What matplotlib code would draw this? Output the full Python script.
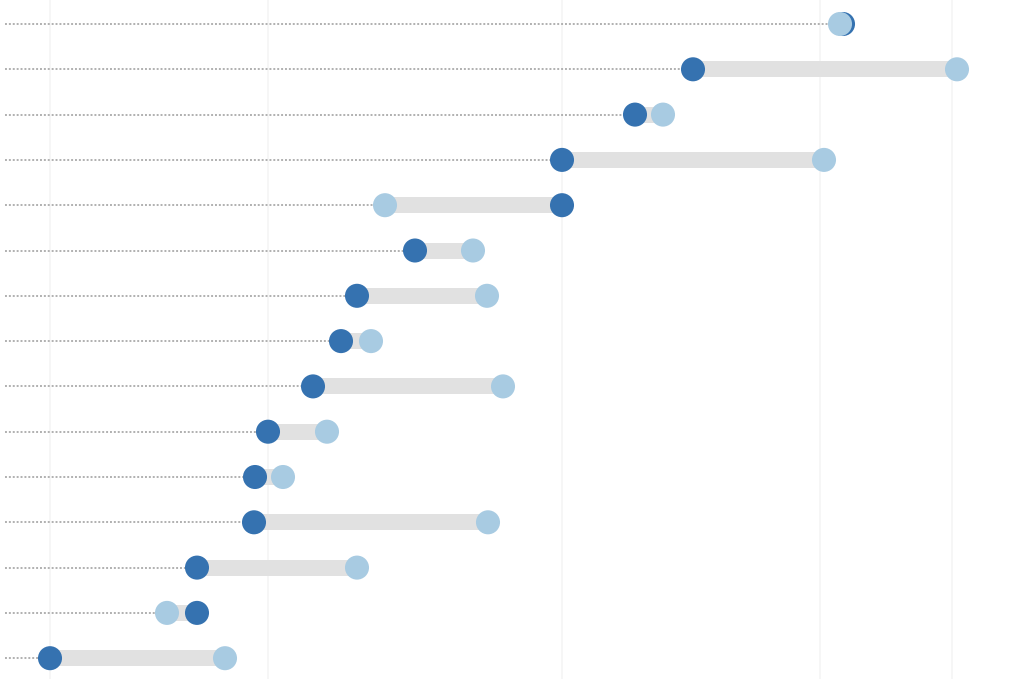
import matplotlib.pyplot as plt
import numpy as np

# values (horizontal axis in pixel-like units, no labels shown)
rows = np.arange(15)
start_vals = [843, 693, 635, 562, 562, 415, 357, 341, 313, 268, 255, 254, 197, 197, 50]
end_vals = [840, 957, 663, 824, 385, 473, 487, 371, 503, 327, 283, 488, 357, 167, 225]
grid_x = [50, 268, 562, 820, 952]

DARK = '#3572b0'
LIGHT = '#a8cbe2'
BAR = '#e1e1e1'

fig = plt.figure(figsize=(10.33, 6.79), dpi=100)
ax = fig.add_axes([0, 0, 1, 1])

for g in grid_x:
    ax.axvline(g, color='#f5f5f5', lw=1.2, zorder=0)

y = 24 + rows * 45.3
lo = np.minimum(start_vals, end_vals)

# dotted leader lines
ax.hlines(y, 5, lo, colors='#b0b0b0', linestyles=(0, (1, 1)), lw=1.4, zorder=1)
# gray range bars
ax.hlines(y, start_vals, end_vals, colors=BAR, lw=11.5, zorder=2)

ax.scatter(start_vals, y, s=300, color=DARK, edgecolors='none', zorder=3)
ax.scatter(end_vals, y, s=300, color=LIGHT, edgecolors='none', zorder=4)

ax.set_xlim(0, 1033)
ax.set_ylim(679, 0)
ax.axis('off')

fig.savefig('out.png', dpi=100, facecolor='white')
